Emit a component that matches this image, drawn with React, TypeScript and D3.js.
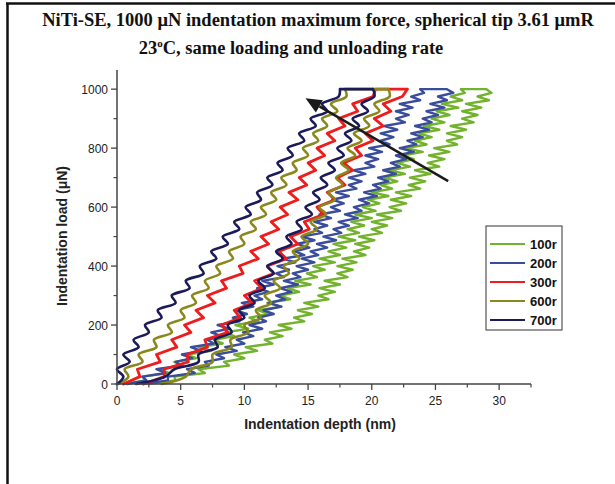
import React from 'react';
import * as d3 from 'd3';

// ---------- data ----------
const X_TICKS = [0, 5, 10, 15, 20, 25, 30];
const X_MINOR = [2.5, 7.5, 12.5, 17.5, 22.5, 27.5, 32.5];
const Y_TICKS = [0, 200, 400, 600, 800, 1000];
const Y_MINOR = [100, 300, 500, 700, 900];

const LOAD_25 = [0,25,50,75,100,125,150,175,200,225,250,275,300,325,350,375,400,425,450,475,500,525,550,575,600,625,650,675,700,725,750,775,800,825,850,875,900,925,950,975,1000];
const LOAD_12 = [0,12.5,25,37.5,50,62.5,75,87.5,100,112.5,125,137.5,150,162.5,175,187.5,200,212.5,225,237.5,250,262.5,275,287.5,300,312.5,325,337.5,350,362.5,375,387.5,400,412.5,425,437.5,450,462.5,475,487.5,500,512.5,525,537.5,550,562.5,575,587.5,600,612.5,625,637.5,650,662.5,675,687.5,700,712.5,725,737.5,750,762.5,775,787.5,800,812.5,825,837.5,850,862.5,875,887.5,900,912.5,925,937.5,950,962.5,975,987.5,1000];

// depth (nm) at each load, loading and unloading branches
const R100_LOAD = [0.5,2.3,2.0,4.1,3.2,5.2,4.5,6.2,5.5,7.4, 6.4,8.3,7.6,9.2,8.5,10.3,9.3,11.1,10.4,11.9, 11.1,12.9,11.8,13.6,12.8,14.3,13.4,15.2,14.0,15.7, 14.9,16.3,15.4,17.1,15.9,17.5,16.6,18.0,17.0,18.7, 17.4,19.0,18.1,19.4,18.4,20.0,18.7,20.3,19.3,20.6, 19.7,21.3,20.0,21.6,20.7,22.0,21.0,22.6,21.4,23.0, 22.0,23.3,22.4,24.0,22.7,24.3,23.4,24.7,23.7,25.3, 24.1,25.7,24.7,26.1,25.1,26.8,25.5,27.1,26.2,27.3, 27.0];
const R100_UNLOAD = [2.5,4.6,4.5,6.9,6.4,8.8,8.4,10.0,9.2,11.0, 10.1,12.2,11.6,13.0,12.0,13.7,12.7,14.7,13.9,15.3, 14.2,15.8,14.7,16.6,15.8,17.1,15.9,17.5,16.3,18.1, 17.3,18.5,17.3,18.8,17.7,19.5,18.6,19.8,18.7,20.2, 19.0,20.8,20.0,21.2,20.0,21.6,20.4,22.3,21.4,22.7, 21.5,23.1,21.9,23.8,22.9,24.2,23.0,24.6,23.4,25.3, 24.4,25.7,24.5,26.1,24.9,26.7,25.9,27.1,25.9,27.4, 26.2,28.0,27.1,28.3,27.1,28.6,27.4,29.2,28.3,29.4, 29.0];
const R200_LOAD = [0.8,2.3,2.0,3.8,3.1,5.0,4.6,5.9,5.1,6.6, 5.8,7.6,7.1,8.2,7.4,8.8,7.9,9.6,9.1,10.2, 9.3,10.7,9.8,11.4,10.8,11.9,11.0,12.3,11.4,13.1, 12.5,13.5,12.6,14.0,13.0,14.7,14.0,15.1,14.1,15.5, 14.5,16.1,15.5,16.5,15.5,16.8,15.9,17.5,16.8,17.8, 16.9,18.2,17.2,18.8,18.2,19.2,18.2,19.5,18.6,20.2, 19.5,20.5,19.5,20.8,19.8,21.4,20.7,21.7,20.7,22.0, 21.0,22.6,21.9,22.9,21.9,23.2,22.2,23.8,23.1,24.1, 23.8];
const R200_UNLOAD = [2.0,4.0,4.0,6.1,5.5,7.2,6.9,8.4,7.8,9.4, 8.5,10.0,9.4,10.7,9.9,11.4,10.4,11.7,11.1,12.3, 11.5,12.9,11.9,13.2,12.5,13.7,12.8,14.2,13.1,14.4, 13.8,15.0,14.1,15.5,14.5,15.8,15.2,16.5,15.7,17.2, 16.2,17.6,17.0,18.2,17.4,18.9,17.9,19.2,18.6,19.8, 19.0,20.4,19.4,20.7,20.1,21.3,20.5,21.9,20.9,22.2, 21.5,22.7,21.9,23.3,22.2,23.5,22.8,24.0,23.1,24.5, 23.4,24.7,24.0,25.2,24.3,25.7,24.6,25.9,25.2,26.4, 25.9];
const R300_LOAD = [0.5,1.8,1.6,3.4,3.1,4.7,4.3,5.8,5.3,6.8,6.2,7.7,7.1,8.6,8.2,9.9,9.6,11.1,10.5,11.9,11.3,12.7,12.1,13.4,12.8,14.2,13.5,14.9,14.3,15.6,15.0,16.3,15.7,17.1,16.5,17.9,17.4,18.9,18.5,20.1,20.3];
const R300_UNLOAD = [2.1,3.7,3.7,5.6,5.5,7.1,6.9,8.7,8.2,9.7,9.2,10.6,10.0,11.4,10.8,12.3,11.8,13.3,12.7,14.2,13.6,15.1,14.7,16.2,15.7,17.1,16.5,17.9,17.3,18.5,17.8,19.2,18.7,20.1,19.5,20.9,20.2,21.5,20.9,22.4,22.8];
const R600_LOAD = [0.1,0.9,0.6,2.0,1.7,3.1,2.9,4.3,4.0,5.3,5.0,6.2,5.9,7.2,6.9,8.1,7.8,9.1,8.8,10.0,9.7,10.9,10.5,11.7,11.3,12.5,12.1,13.3,12.9,14.1,13.8,15.0,14.6,15.8,15.4,16.5,16.1,17.3,16.8,18.0,17.9];
const R600_UNLOAD = [3.5,5.4,5.8,7.5,7.5,9.0,8.9,10.3,10.0,11.3,10.9,12.1,11.6,12.8,12.3,13.5,13.1,14.3,13.8,15.0,14.5,15.7,15.2,16.4,15.9,17.1,16.6,17.7,17.2,18.2,17.6,18.7,18.1,19.2,18.6,19.8,19.4,20.6,20.2,21.4,21.3];
const R700_LOAD = [0.0,0.5,0.0,1.0,0.5,1.7,1.3,2.5,2.2,3.5,3.2,4.6,4.3,5.7,5.4,6.8,6.5,7.8,7.4,8.7,8.3,9.6,9.2,10.5,10.1,11.3,11.0,12.2,11.8,13.0,12.6,13.8,13.4,14.7,14.3,15.6,15.2,16.5,16.1,17.4,17.5];
const R700_UNLOAD = [1.5,3.8,4.5,6.4,6.4,7.9,7.7,9.0,8.7,10.0,9.6,10.8,10.4,11.6,11.1,12.3,11.8,13.0,12.5,13.7,13.3,14.5,14.1,15.3,14.8,15.9,15.4,16.5,16.0,17.1,16.6,17.8,17.3,18.4,17.9,19.0,18.5,19.7,19.2,20.2,20.1];

const SERIES_NAMES = ['100r', '200r', '300r', '600r', '700r'];
const SERIES_COLORS = ['#72b22c', '#3a4c9c', '#ee1c1c', '#8a881c', '#1b1a5a'];
const SERIES_LOADS = [LOAD_12, LOAD_12, LOAD_25, LOAD_25, LOAD_25];
const SERIES_UP = [R100_LOAD, R200_LOAD, R300_LOAD, R600_LOAD, R700_LOAD];
const SERIES_DOWN = [R100_UNLOAD, R200_UNLOAD, R300_UNLOAD, R600_UNLOAD, R700_UNLOAD];
const SERIES_WIDTH = [2.4, 2.4, 2.8, 2.6, 2.6];
const SERIES_SMOOTH = [false, false, false, true, true];

// arrow annotation (depth, load)
const ARROW_FROM = [26.0, 688];
const ARROW_TO = [14.8, 969];

// ---------- layout ----------
const W = 615, H = 484;
const x = d3.scaleLinear().domain([0, 32.5]).range([117, 531]);
const y = d3.scaleLinear().domain([0, 1065]).range([384, 70]);
const SANS = 'Liberation Sans, Arial, sans-serif';
const SERIF = 'Liberation Serif, Times New Roman, serif';

export default function App() {
  const paths = SERIES_NAMES.map((name, s) => {
    const line = d3.line<number[]>().x(d => x(d[0])).y(d => y(d[1]))
      .curve(SERIES_SMOOTH[s] ? d3.curveCatmullRom.alpha(0.5) : d3.curveLinear);
    const straight = d3.line<number[]>().x(d => x(d[0])).y(d => y(d[1]));
    const loads = SERIES_LOADS[s];
    const up = SERIES_UP[s].map((d, i) => [d, loads[i]]);
    const down = SERIES_DOWN[s].map((d, i) => [d, loads[i]]).reverse();
    const hold = [up[up.length - 1], down[0]];
    const d = (line(up) || '') + (straight(hold) || '') + (line(down) || '');
    return { name, color: SERIES_COLORS[s], width: SERIES_WIDTH[s], d };
  });

  // arrow geometry in pixels
  const ax1 = x(ARROW_FROM[0]), ay1 = y(ARROW_FROM[1]);
  const ax2 = x(ARROW_TO[0]), ay2 = y(ARROW_TO[1]);
  const ang = Math.atan2(ay2 - ay1, ax2 - ax1);
  const hl = 16, hw = 7;
  const bx = ax2 - hl * Math.cos(ang), by = ay2 - hl * Math.sin(ang);
  const head = [
    [ax2, ay2],
    [bx + hw * Math.sin(ang), by - hw * Math.cos(ang)],
    [bx - hw * Math.sin(ang), by + hw * Math.cos(ang)],
  ].map(p => p.join(',')).join(' ');

  const legX = 486, legY = 226;

  return (
    <svg width={W} height={H} style={{ position: 'absolute', left: 0, top: 0, background: '#fff' }}>
      <rect x={0} y={0} width={W} height={H} fill="#fff" />
      {/* frame */}
      <line x1={6} y1={3.5} x2={615} y2={3.5} stroke="#111" strokeWidth={2.5} />
      <line x1={7.5} y1={3} x2={7.5} y2={484} stroke="#111" strokeWidth={2.5} />

      {/* title */}
      <text x={318} y={26} textAnchor="middle" fontFamily={SERIF} fontWeight="bold" fontSize={18.5} fill="#111">
        NiTi-SE, 1000 μN indentation maximum force, spherical tip 3.61 μmR
      </text>
      <text x={291} y={54} textAnchor="middle" fontFamily={SERIF} fontWeight="bold" fontSize={18.5} fill="#111">
        23<tspan dy={-7} fontSize={11}>o</tspan><tspan dy={7}>C, same loading and unloading rate</tspan>
      </text>

      {/* curves */}
      {paths.map(p => (
        <path key={p.name} d={p.d} fill="none" stroke={p.color} strokeWidth={p.width} strokeLinejoin="round" strokeLinecap="round" />
      ))}

      {/* arrow */}
      <line x1={ax1} y1={ay1} x2={bx} y2={by} stroke="#1a1a1a" strokeWidth={2.5} />
      <polygon points={head} fill="#1a1a1a" />

      {/* axes */}
      <line x1={x(0)} y1={y(0)} x2={x(32.5)} y2={y(0)} stroke="#444" strokeWidth={1.5} />
      <line x1={x(0)} y1={y(0)} x2={x(0)} y2={y(1065)} stroke="#444" strokeWidth={1.5} />
      {X_TICKS.map(t => (
        <g key={'xt' + t}>
          <line x1={x(t)} x2={x(t)} y1={y(0)} y2={y(0) + 6} stroke="#444" strokeWidth={1.3} />
          <text x={x(t)} y={y(0) + 21} textAnchor="middle" fontFamily={SANS} fontSize={12} fill="#222">{t}</text>
        </g>
      ))}
      {X_MINOR.map(t => (
        <line key={'xm' + t} x1={x(t)} x2={x(t)} y1={y(0)} y2={y(0) + 3.5} stroke="#444" strokeWidth={1.2} />
      ))}
      {Y_TICKS.map(t => (
        <g key={'yt' + t}>
          <line x1={x(0) - 6} x2={x(0)} y1={y(t)} y2={y(t)} stroke="#444" strokeWidth={1.3} />
          <text x={x(0) - 9} y={y(t) + 4.5} textAnchor="end" fontFamily={SANS} fontSize={12} fill="#222">{t}</text>
        </g>
      ))}
      {Y_MINOR.map(t => (
        <line key={'ym' + t} x1={x(0) - 3.5} x2={x(0)} y1={y(t)} y2={y(t)} stroke="#444" strokeWidth={1.2} />
      ))}

      {/* axis titles */}
      <text x={320} y={429} textAnchor="middle" fontFamily={SANS} fontWeight="bold" fontSize={14} fill="#222">
        Indentation depth (nm)
      </text>
      <text transform="translate(67,236) rotate(-90)" textAnchor="middle" fontFamily={SANS} fontWeight="bold" fontSize={14} fill="#222">
        Indentation load (μN)
      </text>

      {/* legend */}
      <rect x={legX} y={legY} width={76} height={104} fill="#fff" stroke="#333" strokeWidth={1} />
      {SERIES_NAMES.map((n, i) => (
        <g key={'lg' + n}>
          <line x1={legX + 4} x2={legX + 39} y1={legY + 18 + i * 19} y2={legY + 18 + i * 19} stroke={SERIES_COLORS[i]} strokeWidth={2.2} />
          <text x={legX + 44} y={legY + 23 + i * 19} fontFamily={SANS} fontWeight="bold" fontSize={13} fill="#111">{n}</text>
        </g>
      ))}
    </svg>
  );
}
